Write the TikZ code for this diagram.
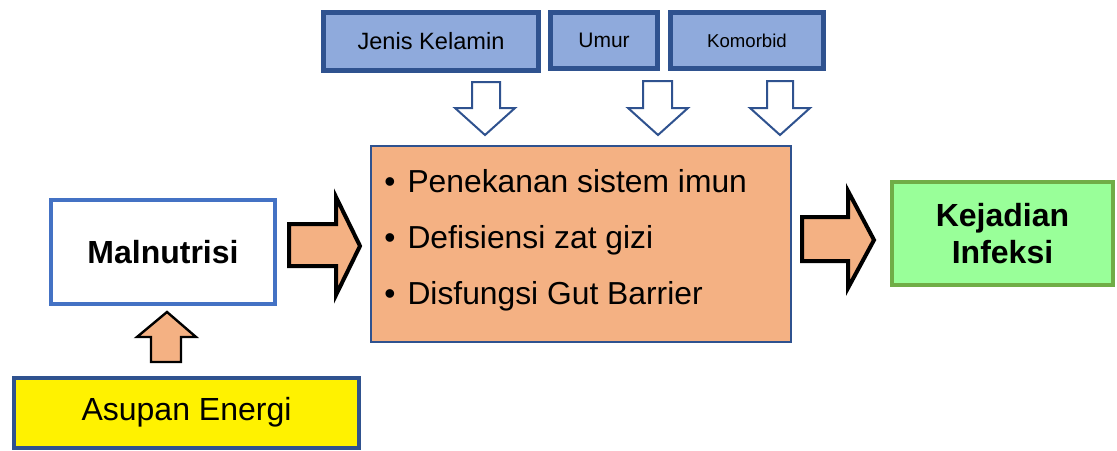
\documentclass[tikz,border=0pt]{standalone}
\usepackage{fontspec}
\setmainfont{Liberation Sans}
\definecolor{darkblue}{HTML}{2F528F}
\definecolor{lightblue}{HTML}{8FAADC}
\definecolor{peach}{HTML}{F4B183}
\definecolor{midblue}{HTML}{4472C4}
\definecolor{lightgreen}{HTML}{99FF99}
\definecolor{leafgreen}{HTML}{70AD47}
\begin{document}
\begin{tikzpicture}[x=0.5pt,y=-0.5pt]
\tikzstyle{factor}= [rectangle,draw=darkblue,fill=lightblue,line width=2.5pt,inner sep=0pt]
\tikzstyle{bigbox}= [rectangle,line width=2pt,inner sep=0pt,align=center]
\tikzstyle{blockarr}= [draw=black,fill=peach,line join=miter]
\tikzstyle{hollowarr}= [draw=darkblue,fill=white,line width=1pt,line join=miter]

\useasboundingbox (0,0) rectangle (1117,450);

\path
	(431,41.5) node[factor,minimum width=107.5pt,minimum height=29pt,font=\fontsize{11.8}{14}\selectfont] (jenis) {Jenis Kelamin}
	(604,40.5) node[factor,minimum width=53.5pt,minimum height=28pt,font=\fontsize{10.5}{12}\selectfont] (umur) {Umur}
	(747,40.5) node[factor,minimum width=76.5pt,minimum height=28pt,font=\fontsize{9.3}{11}\selectfont] (komorbid) {Komorbid}
	(581,244) node[rectangle,draw=darkblue,fill=peach,line width=1pt,minimum width=210pt,minimum height=98pt] (efek) {}
	(384,240) node[anchor=west,align=left,inner sep=0pt,font=\fontsize{15.9}{28}\selectfont] (daftar)
		{\textbullet\hspace{6pt}Penekanan sistem imun\\ \textbullet\hspace{6pt}Defisiensi zat gizi\\ \textbullet\hspace{6pt}Disfungsi Gut Barrier}
	(163,252) node[bigbox,draw=midblue,fill=white,minimum width=112pt,minimum height=52pt,font=\fontsize{16}{19}\selectfont\bfseries] (mal) {Malnutrisi}
	(1002.5,233.5) node[bigbox,draw=leafgreen,fill=lightgreen,minimum width=110.5pt,minimum height=51.5pt,font=\fontsize{16}{18.5}\selectfont\bfseries] (infeksi) {Kejadian\\Infeksi}
	(186.5,412.5) node[bigbox,draw=darkblue,fill=yellow,minimum width=172.5pt,minimum height=35pt,font=\fontsize{16}{18}\selectfont] (asupan) {Asupan Energi}
;
% block arrows
\draw[blockarr,line width=2pt] (289,224) -- (336,224) -- (336,197) -- (360,246) -- (336,295) -- (336,266) -- (289,266) -- cycle;
\draw[blockarr,line width=2pt] (802,217) -- (848,217) -- (848,191) -- (874,240) -- (848,288) -- (848,261) -- (802,261) -- cycle;
\draw[blockarr,line width=1.2pt] (151,362) -- (151,337) -- (137,337) -- (167,312) -- (196,337) -- (181,337) -- (181,362) -- cycle;
% hollow arrows from the factors
\draw[hollowarr] (472,82) -- (500,82) -- (500,108) -- (515,108) -- (485,135) -- (455,108) -- (472,108) -- cycle;
\draw[hollowarr] (643,81) -- (672,81) -- (672,108) -- (688,108) -- (658,135) -- (628,108) -- (643,108) -- cycle;
\draw[hollowarr] (767,81) -- (793,81) -- (793,108) -- (810,108) -- (780,135) -- (750,108) -- (767,108) -- cycle;
\end{tikzpicture}
\end{document}
